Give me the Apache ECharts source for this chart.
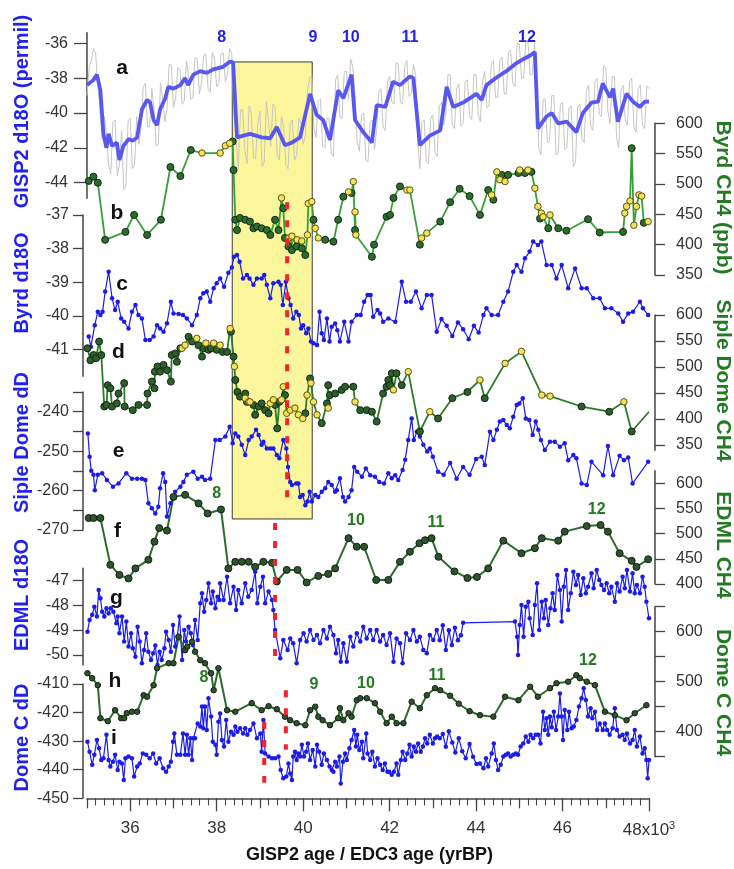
<!DOCTYPE html>
<html>
<head>
<meta charset="utf-8">
<script src="https://cdn.jsdelivr.net/npm/echarts@6/dist/echarts.min.js"></script>
<style>
  html, body { margin: 0; padding: 0; background: #ffffff; }
  #chart { width: 734px; height: 869px; }
</style>
</head>
<body>
<div id="chart"></div>
<script>
// ---- Ice-core records, age in kyr BP (GISP2 / EDC3 time scales) ----

// (a) GISP2 d18O, raw and smoothed (permil)
const gisp2Raw = [
  [35.0,-39.0],[35.05,-37.4],[35.1,-37.0],[35.15,-36.3],[35.2,-36.6],[35.25,-38.4],[35.3,-39.8],[35.35,-41.5],[35.4,-40.2],[35.45,-41.2],
  [35.5,-43.0],[35.55,-43.5],[35.6,-40.5],[35.65,-40.4],[35.7,-43.6],[35.75,-43.0],[35.8,-41.0],[35.85,-44.4],[35.9,-44.2],[35.95,-40.5],
  [36.0,-40.3],[36.05,-43.2],[36.1,-43.0],[36.15,-40.2],[36.2,-41.8],[36.25,-40.9],[36.3,-38.5],[36.35,-38.3],[36.4,-40.8],[36.45,-40.8],
  [36.5,-38.6],[36.55,-39.8],[36.6,-41.9],[36.65,-41.8],[36.7,-38.3],[36.75,-39.1],[36.8,-40.5],[36.85,-39.8],[36.9,-37.2],[36.95,-37.25],
  [37.0,-39.7],[37.05,-39.15],[37.1,-37.4],[37.15,-37.5],[37.2,-39.5],[37.25,-39.3],[37.3,-37.0],[37.35,-37.85],[37.4,-39.2],[37.45,-39.15],
  [37.5,-36.8],[37.55,-36.9],[37.6,-38.9],[37.65,-38.3],[37.7,-36.7],[37.75,-36.6],[37.8,-38.6],[37.85,-38.8],[37.9,-36.5],[37.95,-36.9],
  [38.0,-38.5],[38.05,-38.3],[38.1,-36.6],[38.15,-36.55],[38.2,-38.2],[38.25,-37.75],[38.3,-36.3],[38.35,-36.6],[38.4,-40.2],[38.45,-41.5],
  [38.5,-43.2],[38.55,-39.85],[38.6,-39.8],[38.65,-42.1],[38.7,-42.9],[38.75,-39.6],[38.8,-40.0],[38.85,-42.55],[38.9,-42.6],[38.95,-40.65],
  [39.0,-39.9],[39.05,-43.1],[39.1,-42.8],[39.15,-39.35],[39.2,-40.5],[39.25,-41.9],[39.3,-39.5],[39.35,-39.6],[39.4,-42.4],[39.45,-42.7],
  [39.5,-40.2],[39.55,-40.8],[39.6,-43.0],[39.65,-43.2],[39.7,-40.6],[39.75,-40.4],[39.8,-42.7],[39.85,-42.4],[39.9,-40.3],[39.95,-40.6],
  [40.0,-41.8],[40.05,-41.3],[40.1,-38.7],[40.15,-38.0],[40.2,-37.8],[40.25,-40.9],[40.3,-41.4],[40.35,-39.3],[40.4,-39.2],[40.45,-41.9],
  [40.5,-42.0],[40.55,-40.3],[40.6,-40.3],[40.65,-42.3],[40.7,-42.5],[40.75,-38.1],[40.8,-37.8],[40.85,-40.25],[40.9,-40.3],[40.95,-37.65],
  [41.0,-37.6],[41.05,-39.2],[41.1,-36.9],[41.15,-37.4],[41.2,-39.0],[41.25,-41.7],[41.3,-42.2],[41.35,-40.1],[41.4,-40.0],[41.45,-42.7],
  [41.5,-42.8],[41.55,-40.5],[41.6,-40.4],[41.65,-42.1],[41.7,-41.0],[41.75,-38.8],[41.8,-38.6],[41.85,-40.8],[41.9,-41.0],[41.95,-38.2],
  [42.0,-37.9],[42.05,-39.35],[42.1,-39.5],[42.15,-37.1],[42.2,-37.2],[42.25,-39.4],[42.3,-39.5],[42.35,-37.3],[42.4,-37.0],[42.45,-39.05],
  [42.5,-38.9],[42.55,-37.2],[42.6,-37.8],[42.65,-41.6],[42.7,-43.2],[42.75,-40.5],[42.8,-40.4],[42.85,-42.8],[42.9,-42.9],[42.95,-40.3],
  [43.0,-40.1],[43.05,-42.25],[43.1,-42.5],[43.15,-39.6],[43.2,-39.4],[43.25,-40.7],[43.3,-40.0],[43.35,-37.8],[43.4,-37.8],[43.45,-40.7],
  [43.5,-40.9],[43.55,-38.6],[43.6,-38.3],[43.65,-40.75],[43.7,-40.6],[43.75,-38.2],[43.8,-38.1],[43.85,-40.15],[43.9,-40.4],[43.95,-37.8],
  [44.0,-37.8],[44.05,-40.1],[44.1,-40.5],[44.15,-38.2],[44.2,-37.6],[44.25,-39.7],[44.3,-39.6],[44.35,-37.2],[44.4,-37.0],[44.45,-39.1],
  [44.5,-39.1],[44.55,-36.95],[44.6,-36.8],[44.65,-38.9],[44.7,-38.9],[44.75,-36.5],[44.8,-36.4],[44.85,-38.3],[44.9,-38.5],[44.95,-36.0],
  [45.0,-36.0],[45.05,-38.0],[45.1,-38.0],[45.15,-35.95],[45.2,-35.9],[45.25,-37.8],[45.3,-37.8],[45.35,-36.0],[45.4,-38.0],[45.45,-42.05],
  [45.5,-42.4],[45.55,-39.2],[45.6,-39.2],[45.65,-41.7],[45.7,-41.6],[45.75,-39.0],[45.8,-39.0],[45.85,-42.4],[45.9,-42.3],[45.95,-39.5],
  [46.0,-39.4],[46.05,-42.1],[46.1,-42.0],[46.15,-39.7],[46.2,-39.6],[46.25,-43.1],[46.3,-42.8],[46.35,-39.7],[46.4,-39.5],[46.45,-41.5],
  [46.5,-41.7],[46.55,-38.75],[46.6,-38.4],[46.65,-40.75],[46.7,-41.0],[46.75,-38.2],[46.8,-38.0],[46.85,-40.1],[46.9,-40.2],[46.95,-37.3],
  [47.0,-37.4],[47.05,-39.9],[47.1,-40.6],[47.15,-37.9],[47.2,-37.9],[47.25,-41.4],[47.3,-42.0],[47.35,-38.7],[47.4,-38.4],[47.45,-40.4],
  [47.5,-40.7],[47.55,-38.2],[47.6,-38.0],[47.65,-40.8],[47.7,-41.1],[47.75,-38.6],[47.8,-38.4],[47.85,-40.7],[47.9,-40.9],[47.95,-38.45],
  [48.0,-38.6]
];
const gisp2Smooth = [
  [35.0,-38.4],[35.15,-38.1],[35.23,-37.8],[35.31,-38.7],[35.38,-41.2],[35.45,-42.0],[35.5,-41.2],[35.58,-41.9],[35.69,-41.7],[35.75,-42.7],
  [35.84,-41.9],[35.96,-41.5],[36.06,-41.6],[36.16,-41.4],[36.27,-39.8],[36.39,-39.25],[36.46,-39.4],[36.54,-40.4],[36.62,-40.7],[36.69,-39.8],
  [36.81,-39.15],[36.88,-38.5],[37.0,-38.6],[37.16,-38.4],[37.27,-38.0],[37.34,-38.4],[37.46,-37.8],[37.62,-37.6],[37.77,-37.7],[37.92,-37.5],
  [38.15,-37.35],[38.31,-37.05],[38.38,-37.1],[38.47,-41.4],[38.77,-41.2],[39.04,-41.4],[39.24,-41.45],[39.39,-40.8],[39.58,-41.85],[39.74,-41.7],
  [39.93,-41.4],[40.16,-38.9],[40.31,-40.1],[40.46,-40.4],[40.62,-41.55],[40.81,-38.7],[40.93,-39.15],[41.12,-37.8],[41.2,-40.4],[41.39,-41.1],
  [41.59,-41.7],[41.7,-39.55],[41.9,-39.65],[42.08,-38.2],[42.24,-38.4],[42.47,-37.9],[42.55,-38.0],[42.7,-41.85],[42.93,-41.3],[43.17,-41.0],
  [43.32,-38.5],[43.47,-39.65],[43.7,-39.4],[44.01,-38.9],[44.13,-39.25],[44.24,-38.4],[44.48,-37.95],[44.7,-37.6],[44.9,-37.2],[45.1,-36.9],
  [45.25,-36.7],[45.36,-36.5],[45.43,-40.9],[45.63,-40.2],[45.75,-40.0],[45.9,-40.6],[46.1,-40.5],[46.32,-41.1],[46.47,-40.0],[46.67,-39.4],
  [46.82,-39.35],[46.93,-38.3],[47.1,-39.1],[47.17,-38.6],[47.28,-40.5],[47.48,-38.9],[47.63,-39.35],[47.79,-39.65],[47.9,-39.35],[48.0,-39.35]
];

// (b) Byrd CH4 (ppb), two measurement sets
const byrdCh4Dark = [
  [35.04,505],[35.15,512],[35.25,502],[35.42,408],[35.89,421],[36.09,449],[36.39,416],[36.71,441],[36.93,528],[37.16,513],
  [37.40,556],[38.37,570],[38.39,523],[38.43,441],[38.47,424],[38.54,444],[38.66,441],[38.77,438],[38.85,427],[38.93,430],
  [39.04,427],[39.16,424],[39.24,416],[39.35,441],[39.43,424],[39.54,460],[39.58,411],[39.66,397],[39.74,391],[39.85,397],
  [39.97,394],[40.05,383],[40.24,441],[40.51,408],[40.70,405],[40.81,441],[40.93,479],[41.12,485],[41.20,424],[41.59,380],
  [41.64,400],[41.93,446],[42.01,449],[42.09,477],[42.24,496],[42.70,400],[43.17,438],[43.40,470],[43.62,492],[43.85,480],
  [44.09,449],[44.28,490],[44.40,474],[44.59,515],[44.74,515],[44.98,518],[45.13,518],[45.28,520],[45.48,443],[45.67,427],
  [45.90,427],[46.09,423],[46.59,442],[46.86,420],[47.40,421],[47.60,559],[47.88,436]
];
const byrdCh4Light = [
  [37.66,551],[38.08,551],[38.20,563],[38.30,567],[39.50,477],[39.67,411],[39.74,414],[39.86,408],[39.97,406],[40.10,416],
  [40.12,468],[40.20,471],[40.28,427],[40.35,411],[41.05,487],[41.16,504],[41.20,454],[41.22,416],[42.40,490],[42.47,490],
  [42.74,411],[42.86,419],[44.36,482],[44.48,520],[44.55,507],[44.67,504],[45.01,523],[45.20,523],[45.36,493],[45.43,463],
  [45.51,452],[45.55,446],[45.71,449],[47.44,452],[47.48,463],[47.56,472],[47.65,432],[47.71,463],[47.77,482],[47.83,480],
  [47.98,438]
];

// (c) Byrd d18O (permil)
const byrdD18O = [
  [35.04,-40.62],[35.09,-40.92],[35.18,-40.28],[35.25,-39.88],[35.31,-39.98],[35.36,-39.88],[35.42,-39.28],[35.50,-38.69],[35.58,-39.48],[35.65,-39.83],
  [35.71,-39.58],[35.79,-40.08],[35.86,-40.18],[35.96,-40.38],[36.04,-39.88],[36.12,-39.68],[36.19,-39.98],[36.27,-40.08],[36.35,-40.72],[36.45,-40.72],
  [36.54,-40.62],[36.62,-40.28],[36.69,-40.38],[36.77,-40.48],[36.85,-40.22],[36.94,-39.58],[37.00,-39.93],[37.12,-39.95],[37.22,-39.98],[37.31,-40.08],
  [37.43,-40.28],[37.54,-39.98],[37.62,-39.48],[37.69,-39.33],[37.77,-39.28],[37.85,-39.58],[37.93,-39.18],[38.00,-39.03],[38.08,-38.89],[38.17,-39.14],
  [38.27,-38.72],[38.35,-38.56],[38.40,-38.24],[38.47,-38.19],[38.53,-38.39],[38.61,-38.89],[38.70,-38.79],[38.76,-38.89],[38.85,-39.08],[38.93,-38.89],
  [39.04,-38.89],[39.10,-38.79],[39.16,-39.08],[39.24,-39.48],[39.31,-39.03],[39.43,-38.99],[39.48,-39.08],[39.53,-39.68],[39.60,-38.99],[39.66,-39.48],
  [39.71,-39.68],[39.77,-40.08],[39.84,-39.88],[39.90,-39.98],[39.95,-40.38],[40.00,-40.28],[40.07,-40.52],[40.12,-40.38],[40.18,-40.77],[40.24,-40.82],
  [40.32,-40.87],[40.38,-39.88],[40.43,-40.52],[40.48,-40.72],[40.55,-40.08],[40.61,-40.77],[40.66,-40.33],[40.74,-40.23],[40.79,-40.43],[40.85,-40.77],
  [40.95,-40.18],[41.05,-40.77],[41.12,-40.18],[41.24,-39.98],[41.33,-39.98],[41.41,-39.58],[41.49,-39.38],[41.56,-39.38],[41.62,-40.03],[41.72,-39.83],
  [41.78,-39.93],[41.85,-40.18],[41.97,-40.08],[42.13,-40.18],[42.28,-38.99],[42.38,-39.58],[42.49,-39.58],[42.61,-39.28],[42.74,-39.78],[42.86,-39.38],
  [42.97,-39.38],[43.09,-40.48],[43.20,-40.10],[43.32,-40.30],[43.45,-40.60],[43.58,-40.20],[43.70,-40.40],[43.83,-40.70],[43.95,-40.30],[44.06,-40.50],
  [44.17,-39.98],[44.24,-39.78],[44.36,-39.98],[44.51,-39.98],[44.63,-39.58],[44.74,-39.28],[44.86,-38.69],[44.94,-38.49],[45.05,-38.69],[45.13,-38.29],
  [45.24,-38.09],[45.32,-37.79],[45.43,-37.89],[45.51,-37.79],[45.63,-38.49],[45.75,-38.49],[45.86,-38.89],[45.98,-38.49],[46.13,-39.18],[46.29,-38.59],
  [46.44,-39.18],[46.56,-39.18],[46.71,-39.48],[46.86,-39.48],[46.98,-39.78],[47.13,-39.78],[47.29,-39.93],[47.40,-40.18],[47.52,-39.93],[47.63,-39.88],
  [47.79,-39.58],[47.86,-39.78],[47.98,-39.98]
];

// (d) Siple Dome CH4 (ppb), two measurement sets
const sipleCh4Dark = [
  [35.01,536],[35.08,513],[35.15,523],[35.21,517],[35.28,549],[35.33,523],[35.40,424],[35.45,427],[35.48,465],[35.54,459],
  [35.58,424],[35.69,430],[35.73,449],[35.86,469],[35.87,424],[36.06,417],[36.19,427],[36.39,427],[36.40,449],[36.50,472],
  [36.56,459],[36.57,491],[36.63,501],[36.69,491],[36.77,504],[36.85,494],[36.94,472],[36.96,523],[37.04,526],[37.08,510],
  [37.16,536],[37.35,558],[37.43,549],[37.58,542],[37.66,520],[37.70,536],[37.81,533],[37.87,536],[38.00,533],[38.14,529],
  [38.24,529],[38.33,568],[38.39,520],[38.43,475],[38.48,452],[38.54,443],[38.66,449],[38.70,433],[38.85,427],[38.89,408],
  [38.97,424],[39.04,430],[39.12,417],[39.20,411],[39.35,427],[39.40,382],[39.45,433],[39.58,446],[40.05,411],[40.16,478],
  [40.43,392],[40.55,430],[40.58,465],[40.62,446],[40.74,449],[40.89,456],[40.97,462],[41.16,462],[41.32,417],[41.47,417],
  [41.59,414],[41.70,395],[41.85,449],[41.93,462],[41.97,475],[42.01,465],[42.05,488],[42.16,488],[42.28,465],[42.70,376],
  [43.12,401],[43.45,440],[43.80,452],[44.20,440],[46.44,424],[47.08,414],[47.60,376]
];
const sipleCh4Light = [
  [37.20,536],[37.27,542],[37.54,555],[37.75,546],[37.93,546],[38.08,542],[38.31,574],[38.41,501],[38.66,440],[38.74,433],
  [38.77,433],[39.24,430],[39.31,437],[39.50,437],[39.54,462],[39.62,411],[39.70,417],[39.81,421],[39.89,408],[39.99,401],
  [40.09,446],[40.18,469],[40.24,433],[40.32,408],[40.58,421],[41.20,433],[42.09,456],[42.43,491],[42.93,414],[44.09,475],
  [44.67,507],[45.05,530],[45.52,446],[45.71,444],[47.42,433]
];
const sipleCh4Unmarked = [[48.0,414]];

// (e) Siple Dome dD (permil)
const sipleDD = [
  [35.02,-245.5],[35.06,-251.4],[35.10,-255.0],[35.15,-256.0],[35.18,-259.9],[35.25,-256.0],[35.35,-255.6],[35.46,-257.3],[35.60,-259.0],[35.73,-258.2],
  [35.91,-255.6],[36.04,-257.0],[36.16,-257.0],[36.27,-257.0],[36.35,-257.3],[36.42,-263.2],[36.50,-264.5],[36.58,-265.8],[36.65,-264.1],[36.69,-259.4],
  [36.76,-255.6],[36.81,-257.8],[36.85,-266.6],[36.93,-263.2],[37.04,-260.3],[37.16,-259.0],[37.23,-257.8],[37.31,-256.0],[37.46,-255.2],[37.56,-257.0],
  [37.66,-256.5],[37.73,-257.3],[37.85,-257.0],[37.97,-247.2],[38.07,-247.2],[38.20,-246.3],[38.30,-243.8],[38.37,-248.0],[38.43,-245.5],[38.50,-246.3],
  [38.58,-248.4],[38.66,-251.0],[38.74,-247.2],[38.81,-246.3],[38.91,-244.6],[38.97,-245.9],[39.04,-248.4],[39.08,-247.6],[39.16,-249.3],[39.24,-249.3],
  [39.31,-249.3],[39.39,-251.0],[39.45,-251.8],[39.54,-247.2],[39.61,-249.3],[39.65,-254.0],[39.70,-257.8],[39.74,-258.6],[39.84,-258.2],[39.89,-258.2],
  [39.93,-261.6],[39.99,-261.1],[40.05,-263.7],[40.10,-262.8],[40.15,-260.3],[40.20,-262.8],[40.28,-261.1],[40.35,-261.6],[40.43,-260.3],[40.51,-259.4],
  [40.58,-257.8],[40.66,-258.6],[40.74,-260.3],[40.78,-259.9],[40.85,-256.9],[40.92,-261.6],[40.97,-262.8],[41.05,-261.6],[41.12,-259.9],[41.18,-254.0],
  [41.25,-255.2],[41.36,-256.5],[41.45,-254.4],[41.55,-256.1],[41.66,-256.5],[41.76,-257.8],[41.87,-258.2],[41.97,-255.6],[42.05,-256.9],[42.13,-256.1],
  [42.20,-257.3],[42.30,-254.8],[42.36,-252.2],[42.43,-247.2],[42.51,-241.7],[42.56,-247.2],[42.63,-245.1],[42.70,-246.3],[42.78,-248.4],[42.87,-250.1],
  [42.93,-249.3],[43.00,-251.4],[43.12,-255.2],[43.25,-256.0],[43.40,-253.0],[43.55,-257.0],[43.70,-254.0],[43.85,-256.0],[44.00,-252.0],[44.13,-251.4],
  [44.20,-253.5],[44.32,-245.1],[44.40,-247.2],[44.48,-244.6],[44.55,-242.5],[44.63,-242.1],[44.71,-243.4],[44.78,-244.2],[44.86,-241.3],[44.94,-238.3],
  [45.00,-237.9],[45.08,-236.6],[45.15,-241.7],[45.23,-242.1],[45.31,-245.9],[45.38,-242.5],[45.44,-244.6],[45.50,-247.2],[45.59,-249.7],[45.71,-247.6],
  [45.82,-247.6],[45.94,-248.9],[46.05,-248.0],[46.13,-252.3],[46.25,-251.0],[46.32,-251.8],[46.44,-258.2],[46.56,-258.6],[46.67,-252.7],[46.94,-256.1],
  [47.05,-248.7],[47.17,-256.1],[47.32,-251.2],[47.42,-252.3],[47.52,-251.6],[47.62,-258.2],[47.98,-252.7]
];

// (f) EDML CH4 (ppb)
const edmlCh4 = [
  [35.04,531],[35.15,531],[35.31,531],[35.54,438],[35.75,418],[35.96,411],[36.12,431],[36.42,448],[36.56,484],[36.67,511],
  [36.85,506],[37.00,573],[37.27,577],[37.58,560],[37.79,540],[38.10,548],[38.27,431],[38.43,444],[38.58,444],[38.74,444],
  [38.89,434],[39.08,444],[39.28,442],[39.39,405],[39.62,428],[39.87,428],[40.08,403],[40.35,416],[40.58,420],[40.74,431],
  [41.05,491],[41.24,474],[41.41,474],[41.69,408],[41.97,408],[42.24,444],[42.47,464],[42.69,481],[42.82,487],[42.97,491],
  [43.13,454],[43.50,425],[43.80,412],[44.02,414],[44.28,431],[44.63,486],[45.05,461],[45.36,471],[45.52,491],[45.90,486],
  [46.05,504],[46.56,515],[46.88,517],[47.05,504],[47.32,461],[47.60,446],[47.71,434],[47.98,449]
];

// (g) EDML d18O (permil)
const edmlD18O = [
  [35.01,-49.06],[35.06,-48.59],[35.12,-48.38],[35.17,-48.05],[35.23,-48.45],[35.27,-47.38],[35.31,-47.71],[35.35,-48.25],[35.40,-48.45],[35.45,-48.11],
  [35.50,-48.32],[35.55,-48.11],[35.61,-48.25],[35.68,-48.72],[35.71,-48.45],[35.75,-49.12],[35.81,-48.45],[35.86,-49.46],[35.91,-48.65],[35.96,-49.66],
  [36.02,-49.12],[36.06,-49.73],[36.12,-50.07],[36.17,-48.86],[36.22,-49.46],[36.27,-50.33],[36.32,-49.80],[36.37,-49.12],[36.42,-49.87],[36.48,-50.20],
  [36.53,-49.93],[36.58,-49.62],[36.63,-50.40],[36.68,-49.87],[36.73,-50.20],[36.79,-49.73],[36.83,-49.06],[36.89,-49.39],[36.94,-49.87],[36.99,-48.79],
  [37.04,-49.66],[37.09,-49.26],[37.14,-48.45],[37.20,-50.20],[37.25,-48.99],[37.29,-49.46],[37.35,-48.86],[37.40,-49.12],[37.45,-49.60],[37.50,-48.59],
  [37.56,-49.39],[37.62,-47.91],[37.66,-47.51],[37.71,-48.25],[37.76,-47.78],[37.81,-47.10],[37.87,-47.91],[37.91,-47.44],[37.97,-48.11],[38.02,-47.65],
  [38.06,-47.78],[38.08,-47.10],[38.16,-47.78],[38.24,-46.84],[38.31,-47.91],[38.39,-47.24],[38.45,-48.18],[38.50,-47.38],[38.58,-47.91],[38.66,-47.10],
  [38.73,-47.65],[38.81,-47.38],[38.89,-46.64],[38.94,-47.91],[39.01,-47.24],[39.07,-46.84],[39.12,-47.91],[39.20,-47.44],[39.28,-47.78],[39.31,-48.18],
  [39.35,-48.99],[39.47,-50.13],[39.54,-49.39],[39.64,-49.80],[39.70,-49.33],[39.77,-49.53],[39.85,-50.33],[39.93,-49.39],[40.01,-49.12],[40.08,-49.46],
  [40.16,-48.99],[40.24,-49.39],[40.32,-49.19],[40.39,-49.53],[40.47,-48.99],[40.55,-49.33],[40.62,-48.86],[40.70,-49.19],[40.76,-49.93],[40.81,-49.39],
  [40.87,-50.27],[40.93,-49.53],[41.01,-50.27],[41.09,-49.26],[41.16,-49.66],[41.24,-49.12],[41.32,-49.46],[41.39,-48.86],[41.47,-49.33],[41.55,-48.99],
  [41.62,-49.39],[41.70,-48.99],[41.78,-49.46],[41.85,-49.19],[41.93,-49.60],[42.01,-49.12],[42.09,-50.27],[42.16,-49.33],[42.24,-49.53],[42.30,-50.33],
  [42.38,-49.12],[42.47,-49.39],[42.55,-48.99],[42.63,-49.46],[42.70,-49.26],[42.78,-49.80],[42.86,-49.93],[42.93,-49.19],[43.01,-49.39],[43.09,-48.99],
  [43.16,-49.40],[43.23,-48.80],[43.30,-49.80],[43.37,-49.00],[43.44,-49.60],[43.51,-48.90],[43.58,-49.40],[43.65,-49.20],[43.70,-48.70],
  [44.90,-48.65],[44.95,-49.26],[44.97,-50.00],[45.01,-48.79],[45.05,-47.98],[45.10,-49.26],[45.15,-48.05],[45.21,-47.85],[45.24,-48.52],[45.31,-49.19],
  [45.36,-47.98],[45.41,-47.10],[45.46,-48.99],[45.52,-47.85],[45.57,-48.52],[45.61,-47.78],[45.67,-48.79],[45.72,-48.11],[45.77,-47.51],[45.82,-48.18],
  [45.88,-46.77],[45.94,-47.38],[45.98,-48.65],[46.03,-47.24],[46.08,-46.57],[46.13,-48.18],[46.19,-47.51],[46.25,-46.64],[46.31,-47.17],[46.36,-46.77],
  [46.42,-47.58],[46.48,-46.90],[46.54,-47.51],[46.59,-47.24],[46.67,-46.70],[46.72,-47.31],[46.79,-46.57],[46.85,-46.97],[46.90,-47.17],[46.96,-47.38],
  [47.02,-47.10],[47.08,-47.51],[47.13,-47.24],[47.21,-47.85],[47.26,-47.10],[47.32,-47.44],[47.39,-46.84],[47.44,-47.31],[47.49,-46.57],[47.56,-47.44],
  [47.62,-46.70],[47.67,-47.51],[47.72,-47.17],[47.79,-47.51],[47.85,-46.84],[47.90,-47.24],[47.94,-47.85],[48.00,-48.52]
];

// (h) Dome C CH4 (ppb)
const domeCCh4 = [
  [35.01,517],[35.12,507],[35.25,493],[35.31,427],[35.48,421],[35.65,443],[35.79,427],[35.86,427],[35.92,437],[36.04,440],
  [36.16,440],[36.31,473],[36.39,470],[36.54,493],[36.62,527],[36.89,537],[37.00,537],[37.12,590],[37.27,563],[37.32,570],
  [37.43,580],[37.50,560],[37.62,543],[37.73,537],[37.87,517],[37.93,483],[38.04,527],[38.24,443],[38.43,440],[38.81,457],
  [39.04,443],[39.20,451],[39.39,445],[39.58,430],[39.70,423],[39.85,417],[40.05,413],[40.16,443],[40.28,450],[40.35,430],
  [40.45,423],[40.62,413],[40.81,427],[40.85,447],[40.93,423],[41.05,437],[41.12,430],[41.24,463],[41.32,467],[41.47,467],
  [41.66,457],[41.78,440],[41.93,417],[42.05,430],[42.16,417],[42.32,417],[42.51,460],[42.70,447],[42.86,473],[43.05,487],
  [43.17,483],[43.40,472],[43.60,456],[43.85,441],[44.09,433],[44.40,430],[44.67,470],[44.98,463],[45.25,490],[45.43,470],
  [45.71,487],[45.86,497],[46.13,500],[46.32,513],[46.40,507],[46.56,500],[46.75,493],[46.98,440],[47.21,433],[47.48,423],
  [47.67,437],[47.94,453]
];

// (i) Dome C dD (permil)
const domeCDD = [
  [35.01,-430.2],[35.06,-433.7],[35.12,-438.3],[35.17,-434.8],[35.23,-429.6],[35.28,-432.5],[35.33,-436.6],[35.38,-436.0],[35.45,-427.8],[35.50,-436.6],
  [35.54,-438.9],[35.60,-437.2],[35.65,-434.8],[35.71,-440.1],[35.75,-437.2],[35.81,-437.8],[35.85,-443.6],[35.89,-436.0],[35.96,-435.4],[36.04,-436.0],
  [36.09,-442.4],[36.16,-438.9],[36.22,-437.8],[36.29,-434.3],[36.37,-434.8],[36.45,-436.0],[36.53,-434.3],[36.60,-437.8],[36.68,-436.0],[36.76,-439.5],
  [36.83,-440.7],[36.89,-438.9],[36.94,-437.2],[36.99,-430.2],[37.02,-427.3],[37.08,-434.8],[37.16,-434.8],[37.22,-427.3],[37.27,-434.8],[37.31,-427.8],
  [37.35,-434.8],[37.39,-429.0],[37.43,-436.6],[37.46,-429.0],[37.50,-429.0],[37.56,-423.8],[37.62,-424.9],[37.66,-417.9],[37.69,-425.5],[37.73,-417.9],
  [37.77,-426.1],[37.81,-415.0],[37.87,-421.4],[37.91,-430.2],[37.97,-431.3],[38.00,-434.8],[38.04,-423.2],[38.08,-420.3],[38.12,-429.6],[38.17,-431.9],
  [38.22,-422.6],[38.27,-430.2],[38.33,-426.7],[38.39,-427.8],[38.43,-424.9],[38.48,-426.7],[38.54,-425.5],[38.61,-427.3],[38.66,-425.5],[38.71,-427.8],
  [38.77,-426.1],[38.85,-423.8],[38.93,-429.0],[39.01,-427.3],[39.04,-433.7],[39.08,-422.6],[39.12,-434.3],[39.20,-435.4],[39.28,-436.0],[39.35,-436.0],
  [39.43,-435.4],[39.48,-440.1],[39.54,-443.0],[39.61,-442.4],[39.66,-437.8],[39.70,-441.3],[39.74,-443.6],[39.77,-435.4],[39.81,-433.7],[39.85,-436.6],
  [39.89,-434.3],[39.93,-435.4],[39.97,-431.3],[40.02,-435.4],[40.07,-433.7],[40.11,-430.8],[40.16,-436.6],[40.22,-433.1],[40.28,-438.9],[40.32,-431.3],
  [40.37,-433.7],[40.43,-438.3],[40.48,-434.3],[40.55,-436.6],[40.61,-438.9],[40.66,-440.1],[40.70,-440.7],[40.74,-437.2],[40.78,-438.9],[40.84,-435.4],
  [40.87,-444.8],[40.92,-437.2],[40.97,-434.3],[41.01,-436.6],[41.07,-432.5],[41.12,-429.6],[41.18,-426.1],[41.22,-431.9],[41.25,-427.8],[41.30,-433.1],
  [41.36,-430.2],[41.39,-436.0],[41.46,-427.3],[41.49,-434.3],[41.55,-436.6],[41.60,-433.7],[41.66,-438.9],[41.72,-436.0],[41.78,-438.3],[41.84,-440.1],
  [41.89,-437.8],[41.95,-440.7],[41.99,-440.7],[42.05,-441.8],[42.10,-440.7],[42.16,-437.8],[42.20,-441.8],[42.26,-436.6],[42.30,-433.7],[42.36,-436.6],
  [42.41,-434.3],[42.46,-431.3],[42.51,-435.4],[42.56,-431.9],[42.61,-433.7],[42.66,-430.8],[42.72,-433.7],[42.77,-431.9],[42.82,-429.0],[42.87,-430.8],
  [42.93,-427.8],[43.00,-430.8],[43.05,-429.0],[43.10,-428.4],[43.16,-429.0],[43.23,-427.5],[43.30,-432.0],[43.37,-426.5],[43.45,-430.5],[43.52,-434.0],
  [43.60,-429.0],[43.68,-433.5],[43.76,-436.0],[43.85,-431.0],[43.93,-435.5],[44.01,-438.0],[44.09,-437.8],[44.17,-439.5],[44.23,-436.0],[44.28,-438.9],
  [44.36,-434.3],[44.41,-430.8],[44.46,-436.6],[44.51,-440.1],[44.57,-438.3],[44.63,-435.4],[44.69,-434.8],[44.74,-434.3],[44.80,-435.4],[44.86,-434.8],
  [44.92,-434.3],[44.97,-434.8],[45.03,-431.9],[45.09,-430.8],[45.15,-428.4],[45.21,-430.2],[45.26,-427.8],[45.32,-429.0],[45.38,-427.8],[45.44,-427.8],
  [45.49,-430.8],[45.55,-419.7],[45.59,-426.1],[45.63,-422.0],[45.67,-427.8],[45.71,-421.4],[45.75,-425.1],[45.80,-419.7],[45.85,-426.1],[45.90,-421.4],
  [45.94,-413.3],[45.98,-421.4],[46.01,-429.6],[46.05,-419.1],[46.11,-426.1],[46.15,-419.7],[46.21,-425.5],[46.26,-424.9],[46.32,-422.6],[46.38,-417.9],
  [46.44,-415.0],[46.49,-411.5],[46.54,-415.6],[46.59,-421.4],[46.65,-418.5],[46.69,-422.0],[46.75,-419.7],[46.80,-426.1],[46.86,-423.8],[46.93,-426.1],
  [46.98,-423.8],[47.03,-426.1],[47.09,-427.8],[47.16,-425.5],[47.21,-418.5],[47.26,-426.1],[47.32,-428.4],[47.39,-427.8],[47.44,-429.6],[47.49,-427.3],
  [47.56,-430.8],[47.62,-429.6],[47.67,-426.1],[47.72,-431.9],[47.79,-428.4],[47.85,-434.3],[47.90,-432.5],[47.94,-436.6],[47.97,-443.0],[48.00,-436.6]
];

// ---- Tick values ----
const ageMajorTicks = [36, 38, 40, 42, 44, 46, 48];
const ageOddTicks = [35, 37, 39, 41, 43, 45, 47];
const gisp2Ticks = [-44, -42, -40, -38, -36];
const byrdCh4Ticks = [350, 400, 450, 500, 550, 600];
const byrdD18OTicks = [-41, -40, -39, -38, -37];
const sipleCh4Ticks = [350, 400, 450, 500, 550, 600];
const sipleDDTicks = [-270, -265, -260, -255, -250, -245, -240, -235];
const sipleDDLabels = [-270, -260, -250, -240];
const edmlCh4Ticks = [400, 450, 500, 550, 600];
const edmlD18OTicks = [-50, -49, -48, -47];
const domeCCh4Ticks = [350, 400, 450, 500, 550, 600, 650];
const domeCCh4Labels = [400, 500, 600];
const domeCDDTicks = [-450, -440, -430, -420, -410];

// ---- Annotations (age in kyr; vertical ends in the units of the named panel) ----
const stadialBox = { ageFrom: 38.36, ageTo: 40.21, topPanel: 0, topValue: -37.07, bottomPanel: 4, bottomValue: -267.2 };
const tieLines = [
  { age: 39.63, fromPanel: 1, fromValue: 470, toPanel: 4, toValue: -264.2 },
  { age: 39.35, fromPanel: 5, fromValue: 521, toPanel: 6, toValue: -50.08 },
  { age: 39.60, fromPanel: 7, fromValue: 483, toPanel: 8, toValue: -433.0 },
  { age: 39.10, fromPanel: 8, fromValue: -423.3, toPanel: 8, toValue: -444.6 }
];

// ---- Styling ----
const FONT = '"Liberation Sans", Arial, Helvetica, sans-serif';
const AXIS_COLOR = '#444';
const LABEL_COLOR = '#333';
const BLUE = '#1c1ce8';
const BLUE_TEXT = '#2222ee';
const GREEN_TEXT = '#237a23';

// Panel layout: each record gets its own grid, stacked and overlapping like the printed figure
const panels = [
  { top: 32.85, height: 165.5, min: -44.9, max: -35.4, side: 'left',  offset: 0, tickLen: 13, margin: 19, ticks: gisp2Ticks,    labels: gisp2Ticks },
  { top: 123.3, height: 151.7, min: 350,   max: 600,   side: 'right', offset: 6, tickLen: 10, margin: 21, ticks: byrdCh4Ticks,  labels: byrdCh4Ticks },
  { top: 215.0, height: 161.2, min: -41.8, max: -37,   side: 'left',  offset: 4, tickLen: 10, margin: 14, ticks: byrdD18OTicks, labels: byrdD18OTicks },
  { top: 315.0, height: 135.2, min: 340,   max: 600,   side: 'right', offset: 6, tickLen: 10, margin: 21, ticks: sipleCh4Ticks, labels: sipleCh4Ticks },
  { top: 392.0, height: 138.0, min: -270,  max: -235,  side: 'left',  offset: 4, tickLen: 10, margin: 14, ticks: sipleDDTicks,  labels: sipleDDLabels },
  { top: 470.7, height: 113.3, min: 400,   max: 625,   side: 'right', offset: 6, tickLen: 10, margin: 21, ticks: edmlCh4Ticks,  labels: edmlCh4Ticks },
  { top: 568.3, height: 96.6,  min: -50.4, max: -46.5, side: 'left',  offset: 4, tickLen: 10, margin: 14, ticks: edmlD18OTicks, labels: edmlD18OTicks },
  { top: 606.7, height: 150.0, min: 350,   max: 650,   side: 'right', offset: 6, tickLen: 10, margin: 21, ticks: domeCCh4Ticks, labels: domeCCh4Labels },
  { top: 684.0, height: 114.3, min: -450,  max: -410,  side: 'left',  offset: 4, tickLen: 10, margin: 14, ticks: domeCDDTicks,  labels: domeCDDTicks }
];
const BOTTOM = panels.length - 1;

const grids = panels.map(p => ({
  left: 87, right: 85, top: p.top, height: p.height,
  containLabel: false, outerBoundsMode: 'none', show: false
}));

const yAxes = panels.map((p, i) => ({
  type: 'value', gridIndex: i, min: p.min, max: p.max,
  position: p.side, offset: p.offset,
  axisLine: { show: true, onZero: false, lineStyle: { color: AXIS_COLOR, width: 1.5 } },
  axisTick: { show: true, inside: false, length: p.tickLen, customValues: p.ticks, lineStyle: { color: AXIS_COLOR, width: 1.3 } },
  axisLabel: { show: true, customValues: p.labels, margin: p.margin, fontSize: 16, color: LABEL_COLOR, fontFamily: FONT },
  splitLine: { show: false }
}));

const xAxes = panels.map((p, i) => ({
  type: 'value', gridIndex: i, min: 35, max: 48, show: false, splitLine: { show: false }
}));
// the age axis under the bottom panel: labelled even ticks, medium odd ticks, short minor ticks
xAxes[BOTTOM] = {
  type: 'value', gridIndex: BOTTOM, min: 35, max: 48, position: 'bottom',
  axisLine: { show: true, onZero: false, lineStyle: { color: AXIS_COLOR, width: 1.5 } },
  axisTick: { show: true, inside: false, length: 13, customValues: ageMajorTicks, lineStyle: { color: AXIS_COLOR, width: 1.3 } },
  axisLabel: {
    show: true, customValues: ageMajorTicks, margin: 22, fontSize: 17, color: LABEL_COLOR, fontFamily: FONT,
    formatter: v => (Math.round(v) === 48 ? '48x10{sup|3}' : String(Math.round(v))),
    rich: { sup: { fontSize: 11, fontFamily: FONT, color: LABEL_COLOR, verticalAlign: 'top', padding: [0, 0, 9, 0] } }
  },
  splitLine: { show: false }
};
xAxes.push({
  type: 'value', gridIndex: BOTTOM, min: 35, max: 48, position: 'bottom',
  axisLine: { show: false, onZero: false },
  axisTick: { show: true, length: 10, customValues: ageOddTicks, lineStyle: { color: AXIS_COLOR, width: 1.2 } },
  axisLabel: { show: false }, splitLine: { show: false }
});
xAxes.push({
  type: 'value', gridIndex: BOTTOM, min: 35, max: 48, interval: 0.2, position: 'bottom',
  axisLine: { show: false, onZero: false },
  axisTick: { show: true, length: 7, lineStyle: { color: AXIS_COLOR, width: 1.1 } },
  axisLabel: { show: false }, splitLine: { show: false }
});

const byAge = (...sets) => [].concat(...sets).sort((p, q) => p[0] - q[0]);

function traceLine(i, data, color, width, z) {
  return { type: 'line', xAxisIndex: i, yAxisIndex: i, data, symbol: 'none', clip: false, silent: true,
           lineStyle: { color, width }, z: z || 2, animation: false };
}
function dottedLine(i, data, lineColor, width, dotSize, dotColor, borderColor, z) {
  return { type: 'line', xAxisIndex: i, yAxisIndex: i, data, clip: false, silent: true,
           symbol: 'circle', symbolSize: dotSize, showSymbol: true, showAllSymbol: true,
           lineStyle: { color: lineColor, width },
           itemStyle: { color: dotColor, borderColor: borderColor || dotColor, borderWidth: borderColor ? 1 : 0 },
           z: z || 2, animation: false };
}
function dots(i, data, size, color, borderColor, z) {
  return { type: 'scatter', xAxisIndex: i, yAxisIndex: i, data, symbolSize: size, clip: false, silent: true,
           itemStyle: { color, borderColor, borderWidth: 1, opacity: 1 }, z: z || 3, animation: false };
}

const series = [
  traceLine(0, gisp2Raw, '#c6c6c6', 1, 2),
  traceLine(0, gisp2Smooth, '#5858f0', 3.8, 3),

  traceLine(1, byAge(byrdCh4Dark, byrdCh4Light), '#35a035', 1.8, 4),
  dots(1, byrdCh4Dark, 7, '#2e6b2e', '#0f2a0f', 5),
  dots(1, byrdCh4Light, 6.5, '#f3e35a', '#5c5212', 5),

  dottedLine(2, byrdD18O, BLUE, 1.2, 4.5, BLUE, null, 4),

  traceLine(3, byAge(sipleCh4Dark, sipleCh4Light, sipleCh4Unmarked), '#2c7a2c', 1.8, 4),
  dots(3, sipleCh4Dark, 7, '#2e5e2e', '#0f2a0f', 5),
  dots(3, sipleCh4Light, 6.5, '#f3e35a', '#5c5212', 5),

  dottedLine(4, sipleDD, BLUE, 1.2, 4.5, BLUE, null, 4),

  dottedLine(5, edmlCh4, '#2d6b2d', 2, 7, '#2e532e', '#0f200f', 4),

  dottedLine(6, edmlD18O, BLUE, 1.2, 4.5, BLUE, null, 4),

  dottedLine(7, domeCCh4, '#2d6b2d', 2, 5.5, '#2e532e', '#0f200f', 4),

  dottedLine(8, domeCDD, BLUE, 1.2, 4.5, BLUE, null, 4)
];

const chart = echarts.init(document.getElementById('chart'), null, { renderer: 'canvas', width: 734, height: 869 });
chart.setOption({
  animation: false,
  backgroundColor: '#ffffff',
  grid: grids,
  xAxis: xAxes,
  yAxis: yAxes,
  series
});

// ---- Overlays positioned through the panel scales ----
const toPx = (i, age, v) => chart.convertToPixel({ xAxisIndex: i, yAxisIndex: i }, [age, v]);

function text(x, y, str, font, fill, rotation) {
  return { type: 'text', x, y, rotation: rotation || 0, silent: true, z: 60,
           style: { text: str, font, fill, align: 'center', verticalAlign: 'middle', textAlign: 'center', textVerticalAlign: 'middle' } };
}

const graphics = [];
const b0 = toPx(stadialBox.topPanel, stadialBox.ageFrom, stadialBox.topValue);
const b1 = toPx(stadialBox.bottomPanel, stadialBox.ageTo, stadialBox.bottomValue);
graphics.push({ type: 'rect', silent: true, z: 0, zlevel: 0,
  shape: { x: b0[0], y: b0[1], width: b1[0] - b0[0], height: b1[1] - b0[1] },
  style: { fill: '#fbf69c', stroke: '#3a3a3a', lineWidth: 1 } });

tieLines.forEach(t => {
  const p0 = toPx(t.fromPanel, t.age, t.fromValue);
  const p1 = toPx(t.toPanel, t.age, t.toValue);
  graphics.push({ type: 'line', silent: true, z: 70,
    shape: { x1: p0[0], y1: p0[1], x2: p1[0], y2: p1[1] },
    style: { stroke: '#f2232a', lineWidth: 4, lineDash: [7, 11] } });
});

const NAME_FONT_L = 'bold 20px ' + FONT;
const NAME_FONT_R = 'bold 21px ' + FONT;
const UP = Math.PI / 2, DOWN = -Math.PI / 2;
graphics.push(
  text(22.5, 111.5, 'GISP2 d18O (permil)', NAME_FONT_L, BLUE_TEXT, UP),
  text(22, 283, 'Byrd d18O', NAME_FONT_L, BLUE_TEXT, UP),
  text(22, 442.5, 'Siple Dome dD', NAME_FONT_L, BLUE_TEXT, UP),
  text(22, 595, 'EDML d18O', NAME_FONT_L, BLUE_TEXT, UP),
  text(22, 737.5, 'Dome C dD', NAME_FONT_L, BLUE_TEXT, UP),
  text(722.5, 197.5, 'Byrd CH4 (ppb)', NAME_FONT_R, GREEN_TEXT, DOWN),
  text(722.5, 380.5, 'Siple Dome CH4', NAME_FONT_R, GREEN_TEXT, DOWN),
  text(722.5, 545, 'EDML CH4', NAME_FONT_R, GREEN_TEXT, DOWN),
  text(722.5, 692.5, 'Dome C CH4', NAME_FONT_R, GREEN_TEXT, DOWN),
  text(369.5, 855, 'GISP2 age / EDC3 age (yrBP)', 'bold 18px ' + FONT, '#111', 0)
);

const LETTER_FONT = 'bold 21px ' + FONT;
[['a', 122, 68], ['b', 117, 213], ['c', 122, 284], ['d', 118.5, 352], ['e', 118.5, 451],
 ['f', 117.5, 531], ['g', 116.5, 598], ['h', 115, 681], ['i', 114, 738]].forEach(([s, x, y]) =>
  graphics.push(text(x, y, s, LETTER_FONT, '#111', 0)));

const NUM_FONT = 'bold 16px ' + FONT;
[['8', 221.7, 37.5], ['9', 313, 37.5], ['10', 350.8, 37.5], ['11', 410, 37.5], ['12', 527, 37.5]].forEach(([s, x, y]) =>
  graphics.push(text(x, y, s, NUM_FONT, BLUE_TEXT, 0)));
[['8', 216.7, 494], ['10', 356, 521], ['11', 436, 523], ['12', 596.7, 510],
 ['8', 204, 678], ['9', 314, 685], ['10', 366, 684], ['11', 437, 676], ['12', 588, 661]].forEach(([s, x, y]) =>
  graphics.push(text(x, y, s, NUM_FONT, GREEN_TEXT, 0)));

chart.setOption({ graphic: { elements: graphics } });
</script>
</body>
</html>
